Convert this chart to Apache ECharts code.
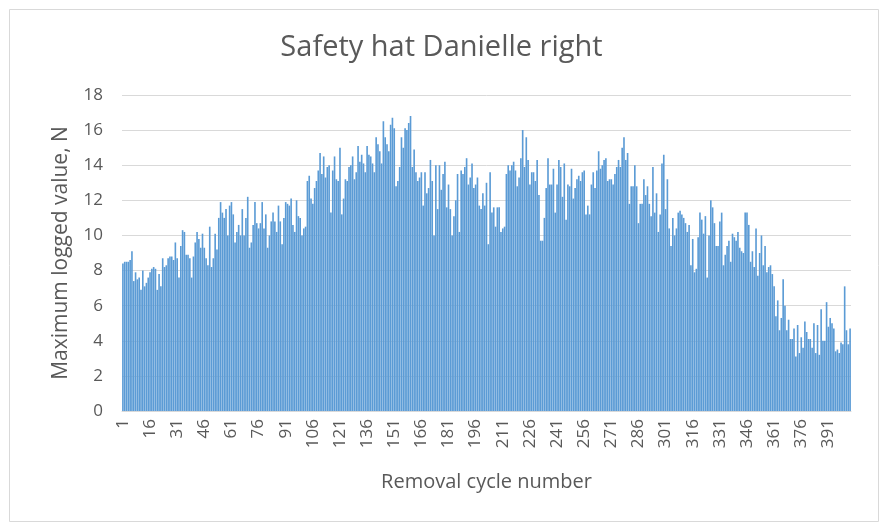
<!DOCTYPE html>
<html>
<head>
<meta charset="utf-8">
<script src="https://cdn.jsdelivr.net/npm/echarts@6/dist/echarts.min.js"></script>
<style>
html,body{margin:0;padding:0;background:#fff;}
#chart{width:883px;height:525px;}
</style>
</head>
<body>
<div id="chart"></div>
<script>
const titleText = "Safety hat Danielle right";
const xAxisTitle = "Removal cycle number";
const yAxisTitle = "Maximum logged value, N";
const yTicks = [0, 2, 4, 6, 8, 10, 12, 14, 16, 18];

const valuesA = [
8.4,8.5,8.5,8.5,8.6,9.1,7.4,7.9,7.5,7.6,
6.9,8.0,7.1,7.3,7.6,7.9,8.1,8.2,8.1,6.9,
7.8,7.1,8.7,8.2,8.3,8.7,8.8,8.8,8.6,9.6,
8.7,7.6,9.4,10.3,10.2,8.9,8.9,8.7,7.6,8.8,
9.6,10.2,9.8,9.3,10.1,9.3,8.7,8.3,10.5,8.2,
8.7,10.1,9.2,11.0,11.9,11.3,11.0,11.5,10.0,11.7,
11.9,11.2,9.6,10.2,10.6,10.0,11.5,10.0
];
const valuesB = [
11.0,12.2,9.3,9.6,10.6,11.9,10.7,10.4,10.7,11.9,
10.4,11.2,9.3,10.0,10.8,11.3,10.8,10.2,11.7,10.8,
9.5,11.0,11.9,11.8,11.7,12.1,10.6,10.2,12.0,11.1,
11.0,10.0,10.4,10.5,13.1,13.4,12.1,11.8,12.7,13.1,
13.7,14.7,13.5,14.5,13.3,13.9,14.0,11.3,13.7,14.5,
13.2,13.1,15.0,11.2,12.1,13.2,13.1,13.9,14.0,14.5,
13.2,13.6,15.1,14.2,14.6,14.1,13.6
];
const valuesC = [
15.1,14.6,14.5,14.1,13.6,15.6,15.2,14.8,14.1,16.5,
15.6,15.2,14.8,16.3,16.7,16.1,12.8,13.1,13.9,15.6,
15.0,16.1,16.0,16.4,16.8,13.9,14.9,13.6,13.1,13.3,
13.6,11.7,13.6,12.4,12.7,14.3,13.1,10.0,14.0,11.5,
14.0,12.6,13.5,14.2,11.6,12.9,11.5,10.0,11.1,12.0,
13.5,10.2,13.7,13.5,13.9,14.4,12.9,13.3,14.1,12.7,
12.9,13.3,11.7,11.5,12.4,11.7,13.0
];
const valuesD = [
9.5,13.6,11.3,11.6,10.5,11.6,11.6,10.2,10.4,10.5,
13.5,14.0,13.7,14.0,14.2,13.7,12.8,13.3,14.4,16.0,
13.9,15.6,14.3,12.9,13.6,13.6,13.1,14.3,12.3,9.7,
9.7,11.0,12.7,14.4,12.9,12.9,13.8,11.3,12.9,14.3,
13.9,12.2,14.1,10.9,12.9,12.8,13.8,12.1,12.7,13.2,
13.4,13.1,13.6,13.7,11.2,11.7,11.2,12.9,13.6,12.7,
13.7,14.8,13.8,14.0,14.3,14.4,13.1,13.2,13.2,12.9
];
const valuesE = [
13.5,13.9,14.3,13.9,15.0,15.6,14.3,14.7,11.8,12.8,
12.8,14.0,12.8,10.7,11.8,11.8,13.2,12.3,12.8,11.8,
11.1,13.9,11.3,12.4,10.2,11.2,14.1,14.6,11.5,13.2,
10.4,9.4,11.0,10.0,10.4,11.3,11.4,11.2,11.0,10.7,
10.2,10.6,8.3,9.8,7.9,8.1,9.9,11.3,10.9,10.1,
11.1,7.6,10.0,12.0,11.6,10.7,9.4,9.4,10.8,11.3,
8.3,8.9,9.4,9.7,8.5,10.1
];
const valuesF = [
9.9,9.7,10.2,9.3,9.1,9.0,11.3,11.3,10.6,8.5,
9.1,8.2,10.4,7.7,9.0,10.0,8.3,9.4,7.9,8.2,
8.3,7.8,7.1,5.4,6.3,4.6,5.3,7.5,6.0,4.6,
5.2,4.1,4.1,4.7,3.1,4.9,3.3,4.2,3.6,5.1,
4.5,4.1,4.1,3.6,5.0,3.3,4.9,3.2,5.8,4.0,
4.0,6.2,4.8,5.3,5.0,4.7,3.4,3.5,3.3,3.9,
3.8,7.1,4.6,3.8,4.7
];

const values = [].concat(valuesA, valuesB, valuesC, valuesD, valuesE, valuesF);
const categories = values.map((v, i) => String(i + 1));

const chart = echarts.init(document.getElementById('chart'), null, {renderer: 'canvas'});
const txt = '#595959';
const fontFam = "'Open Sans', 'Noto Sans', sans-serif";
chart.setOption({
  animation: false,
  backgroundColor: '#ffffff',
  graphic: [{
    type: 'rect', left: 7, top: 7,
    shape: {width: 869, height: 512},
    style: {fill: 'none', stroke: '#D9D9D9', lineWidth: 1}
  }],
  title: {
    text: titleText, left: 'center', top: 28,
    textStyle: {color: txt, fontSize: 29, fontWeight: 'normal', fontFamily: fontFam}
  },
  grid: {left: 122, right: 32, top: 95, bottom: 114, containLabel: false},
  xAxis: {
    type: 'category', data: categories,
    name: xAxisTitle, nameLocation: 'middle', nameGap: 61,
    nameTextStyle: {color: txt, fontSize: 20, fontFamily: fontFam},
    axisLine: {lineStyle: {color: '#D9D9D9', width: 1}},
    axisTick: {show: false},
    axisLabel: {interval: 14, rotate: 90, color: txt, fontSize: 17, fontFamily: fontFam, margin: 8},
    splitLine: {show: false}
  },
  yAxis: {
    type: 'value', min: yTicks[0], max: yTicks[yTicks.length - 1], interval: 2,
    name: yAxisTitle, nameLocation: 'middle', nameGap: 50,
    nameTextStyle: {color: txt, fontSize: 21, fontFamily: fontFam},
    axisLine: {show: false}, axisTick: {show: false},
    axisLabel: {color: txt, fontSize: 17, fontFamily: fontFam, margin: 19},
    splitLine: {lineStyle: {color: '#D9D9D9', width: 1}}
  },
  series: [{
    type: 'bar', data: values, barCategoryGap: '10%',
    itemStyle: {color: '#5B9BD5'}
  }]
});
</script>
</body>
</html>
